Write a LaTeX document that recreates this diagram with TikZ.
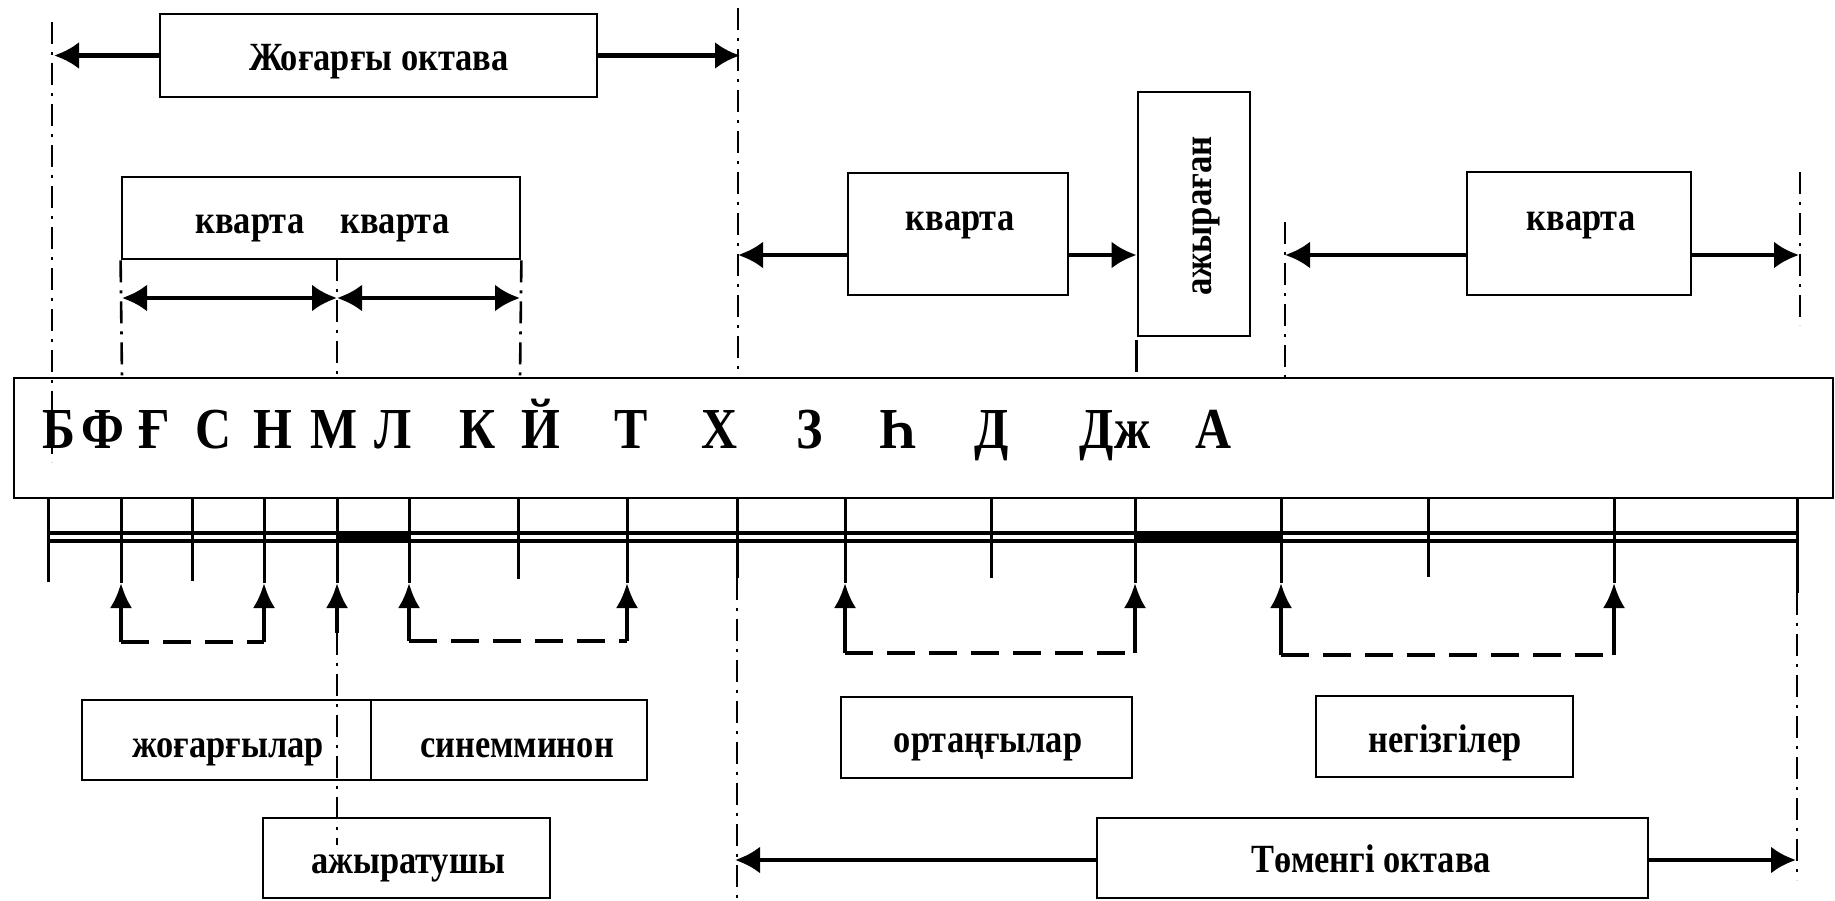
\documentclass[tikz,border=0pt]{standalone}
\usepackage{fontspec}
\setmainfont{Liberation Serif}
\usetikzlibrary{arrows.meta,fit}
\newcommand{\sq}[1]{\scalebox{0.86}[1]{#1}}
\tikzset{
  box/.style={draw, line width=1.4pt, inner sep=0pt},
  txt/.style={inner sep=0pt, anchor=base, font=\fontsize{20}{24}\selectfont\bfseries},
  note/.style={inner sep=0pt, anchor=base, font=\fontsize{29}{33}\selectfont\bfseries},
  dimarrow/.style={line width=2.2pt, -{Latex[length=12.5pt,width=13.5pt]}},
  dimboth/.style={line width=2.2pt, {Latex[length=12.5pt,width=13.5pt]}-{Latex[length=12.5pt,width=13.5pt]}},
  uparrow/.style={line width=1.8pt, -{Latex[length=12.5pt,width=11pt]}},
  dashdot/.style={line width=1.3pt, dash pattern=on 11pt off 4pt on 1.5pt off 4pt},
  tickline/.style={line width=1.5pt},
  staffline/.style={line width=1.6pt},
  link/.style={line width=2pt, dash pattern=on 14pt off 7pt},
}
\begin{document}
\begin{tikzpicture}[x=0.5pt,y=-0.5pt]
\useasboundingbox (0,0) rectangle (1835,900);
\fill[white] (0,0) rectangle (1835,900);

% ---------- boxes ----------
\node[box, fit={(160,14)(597,97)}] (top) {};
\node[box, fit={(122,177)(520,259)}] (kk) {};
\node[box, fit={(848,173)(1068,295)}] (q1) {};
\node[box, fit={(1138,92)(1250,336)}] (az) {};
\node[box, fit={(1467,172)(1691,295)}] (q2) {};
\node[box, fit={(14,378)(1833,498)}] (main) {};
\node[box, fit={(82,700)(371,780)}] (zh) {};
\node[box, fit={(371,700)(647,780)}] (sin) {};
\node[box, fit={(263,818)(550,898)}] (azh) {};
\node[box, fit={(841,697)(1132,778)}] (ort) {};
\node[box, fit={(1316,696)(1573,777)}] (neg) {};
\node[box, fit={(1097,818)(1648,898)}] (tom) {};

% ---------- texts ----------
\node[txt] (tTop) at (379,70) {\sq{Жоғарғы октава}};
\node[txt] (tK1) at (250,233) {\sq{кварта}};
\node[txt] (tK2) at (395,233) {\sq{кварта}};
\node[txt] (tQ1) at (960,230) {\sq{кварта}};
\node[txt, rotate=90] (tAz) at (1211,216) {\scalebox{0.87}[1]{ажыраған}};
\node[txt] (tQ2) at (1581,230) {\sq{кварта}};
\node[txt] (tZh) at (228,757) {\sq{жоғарғылар}};
\node[txt] (tSin) at (517,757) {\sq{синемминон}};
\node[txt] (tAzh) at (408,873) {\sq{ажыратушы}};
\node[txt] (tOrt) at (988,752) {\sq{ортаңғылар}};
\node[txt] (tNeg) at (1445,752) {\sq{негізгілер}};
\node[txt] (tTom) at (1371,872) {\sq{Төменгі октава}};

% ---------- note letters ----------
\foreach \x/\l [count=\i] in {59/Б,103/Ф,154/Ғ,214/С,273/Н,334/М,393/Л,478/К,541/Й,631/Т,719/Х,810/З,898/Һ,992/Д,1115/Дж,1213/А}
  \node[note] (L\i) at (\x,448) {\sq{\l}};

% ---------- ticks and staff ----------
\foreach \x/\e in {48/582,121/583,192/581,264/583,337/583,409/583,518/579,627/583,737/578,845/583,991/578,1135/583,1281/583,1428/577,1614/583,1797/593}
  \draw[tickline] (\x,498) -- (\x,\e);
\draw[staffline] (48,533) -- (1797,533);
\draw[staffline] (48,541) -- (1797,541);
\fill (337,531) rectangle (409,543);
\fill (1135,531) rectangle (1281,543);

% ---------- dash-dot guide lines ----------
\draw[dashdot] (52,22) -- (52,462);
\draw[dashdot] (738,8) -- (738,378);
\draw[dashdot] (737,578) -- (737,900);
\draw[dashdot] (kk.south west) -- (122,378);
\draw[dashdot] (337,259) -- (337,378);
\draw[dashdot] (kk.south east) -- (520,378);
\draw[tickline] (1136,340) -- (1136,372);
\draw[dashdot] (1285,222) -- (1285,378);
\draw[dashdot] (1800,172) -- (1800,325);
\draw[dashdot] (1797,593) -- (1797,880);
\draw[dashdot] (337,633) -- (337,845);

% ---------- dimension arrows ----------
\coordinate (topL) at (54,55.5);
\coordinate (topR) at (740,55.5);
\draw[dimarrow] (top.west) -- (topL);
\draw[dimarrow] (top.east) -- (topR);

\coordinate (k1) at (122,298);
\coordinate (k2) at (337,298);
\coordinate (k3) at (520,298);
\draw[dimboth] (k1) -- (k2);
\draw[dimboth] (k2) -- (k3);

\coordinate (q1L) at (738,255);
\coordinate (q1R) at (1138,255);
\draw[dimarrow] (q1.west |- q1L) -- (q1L);
\draw[dimarrow] (q1.east |- q1R) -- (az.west |- q1R);

\coordinate (q2L) at (1285,255);
\coordinate (q2R) at (1799,255);
\draw[dimarrow] (q2.west |- q2L) -- (q2L);
\draw[dimarrow] (q2.east |- q2R) -- (q2R);

\coordinate (tomL) at (735,860);
\coordinate (tomR) at (1796,860);
\draw[dimarrow] (tom.west |- tomL) -- (tomL);
\draw[dimarrow] (tom.east |- tomR) -- (tomR);

% ---------- pitch pointers ----------
\draw[uparrow] (337,633) -- (337,583);
\foreach \x/\b in {121/642,264/642,409/641,627/641,845/653,1135/653,1281/655,1614/655}
  \draw[uparrow] (\x,\b) -- (\x,583);
\draw[link] (121,642) -- (264,642);
\draw[link] (409,641) -- (627,641);
\draw[link] (845,653) -- (1135,653);
\draw[link] (1281,655) -- (1614,655);
\end{tikzpicture}
\end{document}
